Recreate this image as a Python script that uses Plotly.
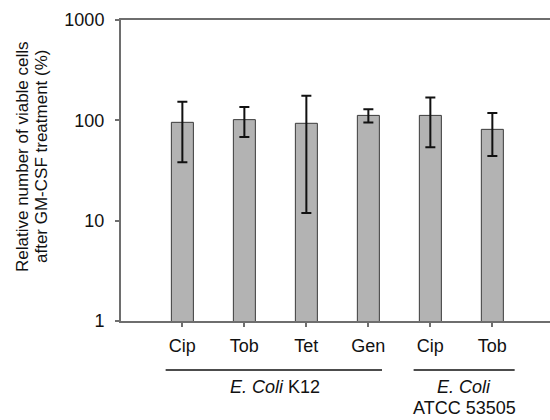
import plotly.graph_objects as go

categories = ["Cip", "Tob", "Tet", "Gen", "Cip ", "Tob "]
tick_labels = ["Cip", "Tob", "Tet", "Gen", "Cip", "Tob"]
values = [95.5, 101.6, 93.4, 112.0, 112.0, 81.3]
err_upper = [153.0, 135.6, 176.0, 128.6, 169.0, 118.2]
err_lower = [38.2, 68.2, 11.9, 94.9, 53.9, 44.2]
group_labels = ["<i>E. Coli</i> K12", "<i>E. Coli</i><br>ATCC 53505"]
y_title = "Relative number of viable cells<br>after GM-CSF treatment (%)"

x_idx = list(range(len(categories)))
plus = [u - v for u, v in zip(err_upper, values)]
minus = [v - l for v, l in zip(values, err_lower)]

FONT = "Liberation Sans, Arial, sans-serif"
AX = "#6e6e6e"

fig = go.Figure()
fig.add_trace(go.Bar(
    x=x_idx, y=values, width=0.355,
    marker=dict(color="#b3b3b3", line=dict(color="#3a3a3a", width=1)),
    error_y=dict(type="data", symmetric=False, array=plus, arrayminus=minus,
                 color="#111111", thickness=2, width=5),
))

W, H = 550, 420
L, R, T, B = 121, 0, 20, 99
fig.update_layout(
    width=W, height=H,
    margin=dict(l=L, r=R, t=T, b=B),
    paper_bgcolor="white", plot_bgcolor="white",
    showlegend=False,
    font=dict(family=FONT, size=18, color="#111111"),
)
fig.update_xaxes(
    range=[-0.99, 5.93], tickmode="array", tickvals=x_idx, ticktext=tick_labels,
    showline=True, linecolor=AX, linewidth=2, mirror=True,
    ticks="outside", ticklen=4, tickcolor=AX, tickwidth=1.5,
    showgrid=False, zeroline=False, tickfont=dict(size=18),
    ticklabelstandoff=3,
)
fig.update_yaxes(
    type="log", range=[0, 3], tickmode="array", tickvals=[1, 10, 100, 1000],
    ticktext=["1", "10", "100", "1000"],
    showline=True, linecolor=AX, linewidth=2,
    ticks="outside", ticklen=4, tickcolor=AX, tickwidth=1.5,
    showgrid=False, zeroline=False, tickfont=dict(size=18),
    ticklabelstandoff=7,
)

pw = W - L - R
ph = H - T - B
def py(ypix):
    return (H - B - ypix) / ph
def px(xpix):
    return (xpix - L) / pw

# group lines
for x0, x1 in [(-0.27, 3.22), (3.73, 5.36)]:
    fig.add_shape(type="line", xref="x", yref="paper", x0=x0, x1=x1,
                  y0=py(370), y1=py(370), line=dict(color="#111111", width=1.5))

fig.add_annotation(text=group_labels[0], xref="x", yref="paper", x=1.5, y=py(387),
                   showarrow=False, font=dict(size=18), yanchor="middle")
for i, line in enumerate(group_labels[1].split("<br>")):
    fig.add_annotation(text=line, xref="x", yref="paper", x=4.55, y=py(387 + 21 * i),
                       showarrow=False, font=dict(size=18), yanchor="middle")

for i, line in enumerate(y_title.split("<br>")):
    fig.add_annotation(text=line, xref="paper", yref="paper", x=px(22 + 19 * i), y=py(157),
                       textangle=-90, showarrow=False, font=dict(size=17),
                       xanchor="center", yanchor="middle")

fig.write_html("out.html", config={"displayModeBar": False},
               post_script="document.body.style.margin='0';document.body.style.overflow='hidden';")
